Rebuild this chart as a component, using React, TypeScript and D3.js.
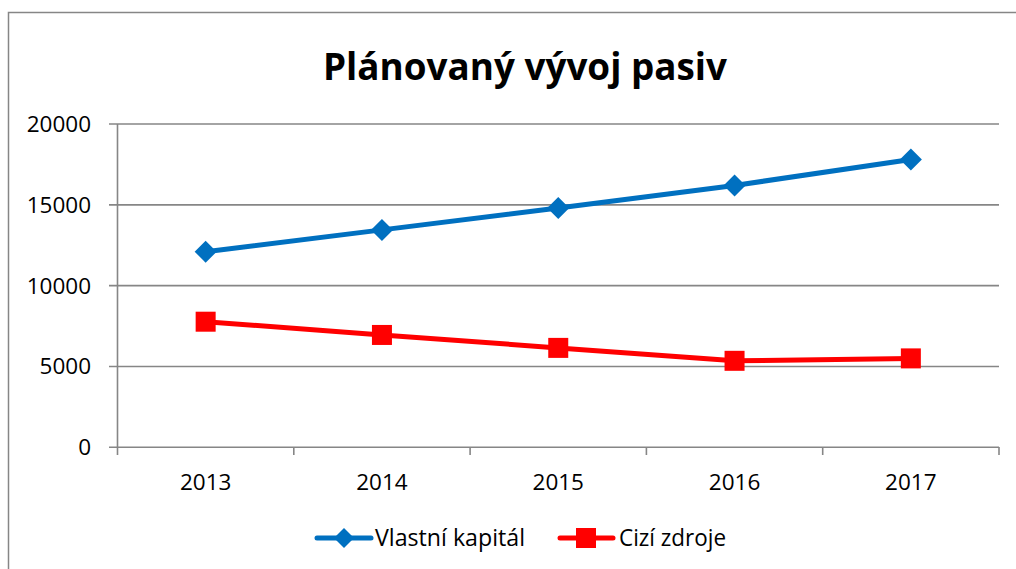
import React from "react";
import * as d3 from "d3";

const years = ["2013", "2014", "2015", "2016", "2017"];
const vlastniKapital = [12100, 13450, 14800, 16200, 17800];
const ciziZdroje = [7770, 6950, 6150, 5350, 5500];
const yTicks = [0, 5000, 10000, 15000, 20000];

const W = 1016;
const H = 569;
const FONT = "Open Sans, DejaVu Sans, sans-serif";
const GRID = "#868686";

const App = () => {
  const x = d3.scaleBand().domain(years).range([117.5, 999]).padding(0);
  const y = d3.scaleLinear().domain([0, 20000]).range([447.3, 124]);
  const cx = (d: string) => (x(d) as number) + x.bandwidth() / 2;

  const line = d3
    .line<number>()
    .x((_, i) => cx(years[i]))
    .y((d) => y(d));

  const boundaries = years.map((d) => x(d) as number).concat([x.range()[1]]);

  const diamond = (px: number, py: number, r: number) =>
    `M${px},${py - r}L${px + r},${py}L${px},${py + r}L${px - r},${py}Z`;

  return (
    <svg
      width={W}
      height={H}
      style={{ position: "absolute", left: 0, top: 0, background: "white" }}
    >
      {/* chart frame, extends past the window on right and bottom */}
      <rect x={8.5} y={12.5} width={1040} height={600} fill="white" stroke={GRID} strokeWidth={1.5} />

      <text
        x={525}
        y={80}
        textAnchor="middle"
        fontFamily={FONT}
        fontWeight="bold"
        fontSize={37}
        fill="#000"
        textLength={404}
        lengthAdjust="spacingAndGlyphs"
      >
        Plánovaný vývoj pasiv
      </text>

      {/* grid + y ticks */}
      {yTicks.map((t) => (
        <g key={t}>
          <line x1={109} x2={999} y1={y(t)} y2={y(t)} stroke={GRID} strokeWidth={1.6} />
          <text
            x={91}
            y={y(t) + 8}
            textAnchor="end"
            fontFamily={FONT}
            fontSize={22.5}
            fill="#000"
          >
            {t}
          </text>
        </g>
      ))}
      <line x1={117.5} x2={117.5} y1={124} y2={455} stroke={GRID} strokeWidth={1.6} />
      {boundaries.slice(1).map((b, i) => (
        <line key={i} x1={b} x2={b} y1={447} y2={455} stroke={GRID} strokeWidth={1.6} />
      ))}
      {years.map((d) => (
        <text
          key={d}
          x={cx(d)}
          y={490}
          textAnchor="middle"
          fontFamily={FONT}
          fontSize={22.5}
          fill="#000"
        >
          {d}
        </text>
      ))}

      {/* series */}
      <path d={line(vlastniKapital) || ""} fill="none" stroke="#0070C0" strokeWidth={5} strokeLinejoin="round" />
      {vlastniKapital.map((v, i) => (
        <path key={i} d={diamond(cx(years[i]), y(v), 11)} fill="#0070C0" />
      ))}
      <path d={line(ciziZdroje) || ""} fill="none" stroke="#FF0000" strokeWidth={5} strokeLinejoin="round" />
      {ciziZdroje.map((v, i) => (
        <rect key={i} x={cx(years[i]) - 10} y={y(v) - 10} width={20} height={20} fill="#FF0000" />
      ))}

      {/* legend */}
      <g>
        <line x1={317} x2={371} y1={538} y2={538} stroke="#0070C0" strokeWidth={5} strokeLinecap="round" />
        <path d={diamond(344, 538, 10)} fill="#0070C0" />
        <text x={375} y={546} fontFamily={FONT} fontSize={23} fill="#000" textLength={150} lengthAdjust="spacingAndGlyphs">
          Vlastní kapitál
        </text>
        <line x1={560} x2={613} y1={538} y2={538} stroke="#FF0000" strokeWidth={5} strokeLinecap="round" />
        <rect x={576} y={528} width={20} height={20} fill="#FF0000" />
        <text x={619} y={546} fontFamily={FONT} fontSize={23} fill="#000" textLength={107} lengthAdjust="spacingAndGlyphs">
          Cizí zdroje
        </text>
      </g>
    </svg>
  );
};

export default App;
